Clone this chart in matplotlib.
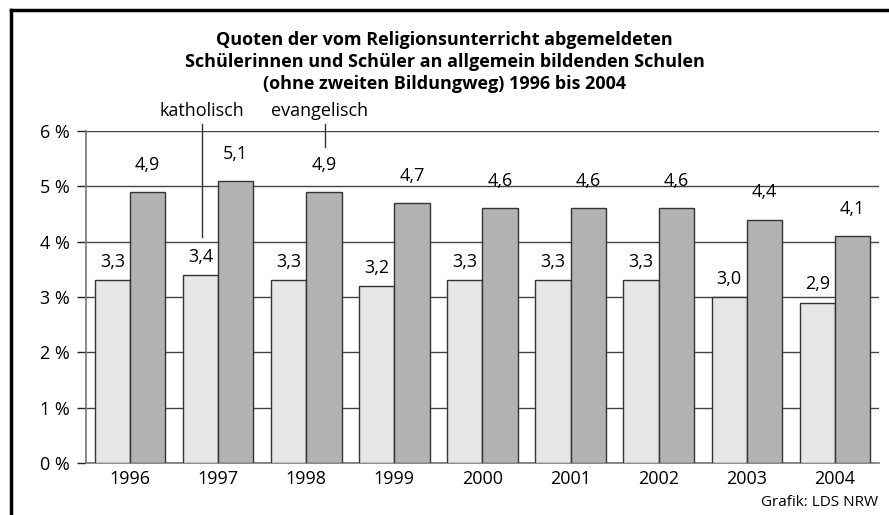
import numpy as np
import matplotlib.pyplot as plt
from matplotlib.lines import Line2D

jahre = ["1996", "1997", "1998", "1999", "2000", "2001", "2002", "2003", "2004"]
katholisch = [3.3, 3.4, 3.3, 3.2, 3.3, 3.3, 3.3, 3.0, 2.9]
evangelisch = [4.9, 5.1, 4.9, 4.7, 4.6, 4.6, 4.6, 4.4, 4.1]
y_ticks = [0, 1, 2, 3, 4, 5, 6]

plt.rcParams["font.family"] = ["Open Sans", "DejaVu Sans"]

fig = plt.figure(figsize=(8.89, 5.15), dpi=100, facecolor="white")
ax = fig.add_axes([86 / 889, 52 / 515, 793 / 889, 332 / 515])

x = np.arange(len(jahre))
b = 0.4
bars_k = ax.bar(x - b / 2, katholisch, width=b, color="#e6e6e6",
                edgecolor="#333333", linewidth=1.0, zorder=3)
bars_e = ax.bar(x + b / 2, evangelisch, width=b, color="#b3b3b3",
                edgecolor="#333333", linewidth=1.0, zorder=3)

for bar, v in zip(bars_k, katholisch):
    ax.annotate(f"{v:.1f}".replace(".", ","),
                (bar.get_x() + bar.get_width() / 2, v),
                xytext=(0, 13), textcoords="offset points",
                ha="center", va="center", fontsize=13)
for bar, v in zip(bars_e, evangelisch):
    ax.annotate(f"{v:.1f}".replace(".", ","),
                (bar.get_x() + bar.get_width() / 2, v),
                xytext=(0, 19.5), textcoords="offset points",
                ha="center", va="center", fontsize=13)

ax.set_xlim(-0.5, len(jahre) - 0.5)
ax.set_ylim(0, 6)
ax.set_yticks(y_ticks)
ax.set_yticklabels([f"{t} %" for t in y_ticks], fontsize=13)
ax.set_xticks(x)
ax.set_xticklabels(jahre, fontsize=13)
ax.tick_params(axis="x", length=0, pad=5)
ax.tick_params(axis="y", length=6.5, width=1, color="#222222", pad=5)
ax.yaxis.grid(True, color="#444444", linewidth=1, zorder=0)
ax.set_axisbelow(True)
for s in ["top", "right"]:
    ax.spines[s].set_visible(False)
ax.spines["left"].set_color("#777777")
ax.spines["bottom"].set_color("#777777")
ax.spines["left"].set_linewidth(1.2)
ax.spines["bottom"].set_linewidth(1.2)

# Legende als Beschriftung mit Linien
fig.text(202 / 889, 1 - 111 / 515, "katholisch", ha="center", va="center", fontsize=13)
fig.text(320 / 889, 1 - 111 / 515, "evangelisch", ha="center", va="center", fontsize=13)
fig.add_artist(Line2D([202 / 889, 202 / 889], [1 - 124 / 515, 1 - 237 / 515],
                      color="#333333", linewidth=1))
fig.add_artist(Line2D([325 / 889, 325 / 889], [1 - 124 / 515, 1 - 147 / 515],
                      color="#333333", linewidth=1))

fig.text(0.5, 1 - 62 / 515,
         "Quoten der vom Religionsunterricht abgemeldeten\n"
         "Schülerinnen und Schüler an allgemein bildenden Schulen\n"
         "(ohne zweiten Bildungweg) 1996 bis 2004",
         ha="center", va="center", fontsize=13, fontweight="bold",
         linespacing=1.3)

fig.text(878 / 889, 1 - 503 / 515, "Grafik: LDS NRW", ha="right", va="center", fontsize=11)

# Rahmen oben und links
fig.add_artist(Line2D([10.5 / 889, 10.5 / 889], [0, 1 - 9.5 / 515], color="black", linewidth=2.5))
fig.add_artist(Line2D([10.5 / 889, 1], [1 - 9.5 / 515, 1 - 9.5 / 515], color="black", linewidth=2.5))

fig.savefig("out.png", dpi=100, facecolor="white")
